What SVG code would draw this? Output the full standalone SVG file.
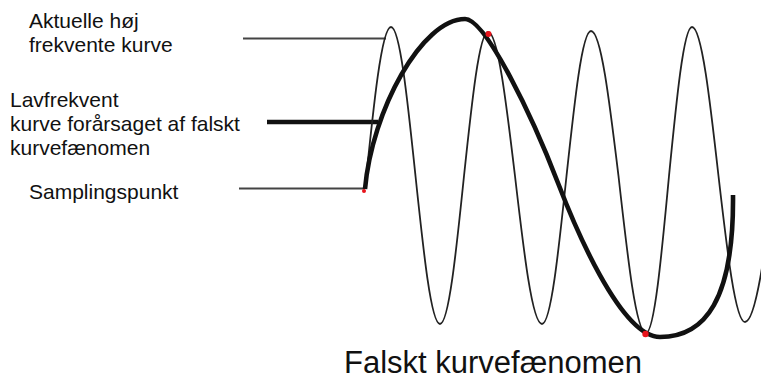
<svg xmlns="http://www.w3.org/2000/svg" width="761" height="381" viewBox="0 0 761 381">
<style>
.lbl{font-family:"Liberation Sans",Arial,sans-serif;font-size:21px;fill:#111}
.title{font-family:"Liberation Sans",Arial,sans-serif;font-size:31px;fill:#111}
.thin{fill:none;stroke:#222;stroke-width:1.8}
.thick{fill:none;stroke:#111;stroke-width:4.6}
.lead{fill:none;stroke:#444;stroke-width:2}
.leadthick{fill:none;stroke:#111;stroke-width:4.5}
.dot{fill:#e8141c}
</style>
<rect width="761" height="381" fill="#fff"/>
<g id="connectors">
<line class="lead" x1="243" y1="38.5" x2="386" y2="38.5"/>
<line class="leadthick" x1="267" y1="122" x2="378" y2="122"/>
<line class="lead" x1="239" y1="188.5" x2="365" y2="188.5"/>
</g>
<g id="high-freq-curve">
<path class="thin" d="M365,189 C373.5,106 381.6,27 391,27 C399.9,27 407.5,99.7 415.5,176 C423.5,251.8 431.1,324 440,324 C448.7,324 456.2,251.8 464,176 C471.8,102.2 479.3,32 488,32 C497.8,32 506.2,102.2 515,176 C523.8,251.8 532.2,324 542,324 C550.9,324 558.5,251.8 566.5,176 C574.5,101.7 582.1,31 591,31 C601,31 609.5,101.7 618.5,176 C627.5,256.4 636,333 646,333 C654.3,333 661.5,256.4 669,176 C676.5,99.7 683.7,27 692,27 C701.6,27 709.9,99.7 718.5,176 C727.1,250.8 735.4,322 745,322 C755.9,322 765.2,250.8 775,176"/>
</g>
<g id="low-freq-curve">
<path class="thick" d="M365,189 C372,110 422,19 465,19 C486,19 533,118 558,183 C573,222 620,337 660,337 C705,337 734,300 733,195"/>
</g>
<g id="sampling-points">
<circle class="dot" cx="364" cy="191" r="2"/>
<circle class="dot" cx="488.5" cy="34" r="3"/>
<circle class="dot" cx="645.5" cy="334" r="3.2"/>
</g>
<g id="label-high">
<text class="lbl" x="29" y="28">Aktuelle høj</text>
<text class="lbl" x="29" y="52">frekvente kurve</text>
</g>
<g id="label-low">
<text class="lbl" x="10" y="107">Lavfrekvent</text>
<text class="lbl" x="10" y="131">kurve forårsaget af falskt</text>
<text class="lbl" x="10" y="155">kurvefænomen</text>
</g>
<g id="label-sampling">
<text class="lbl" x="29" y="199">Samplingspunkt</text>
</g>
<g id="title">
<text class="title" x="344" y="373">Falskt kurvefænomen</text>
</g>
</svg>
